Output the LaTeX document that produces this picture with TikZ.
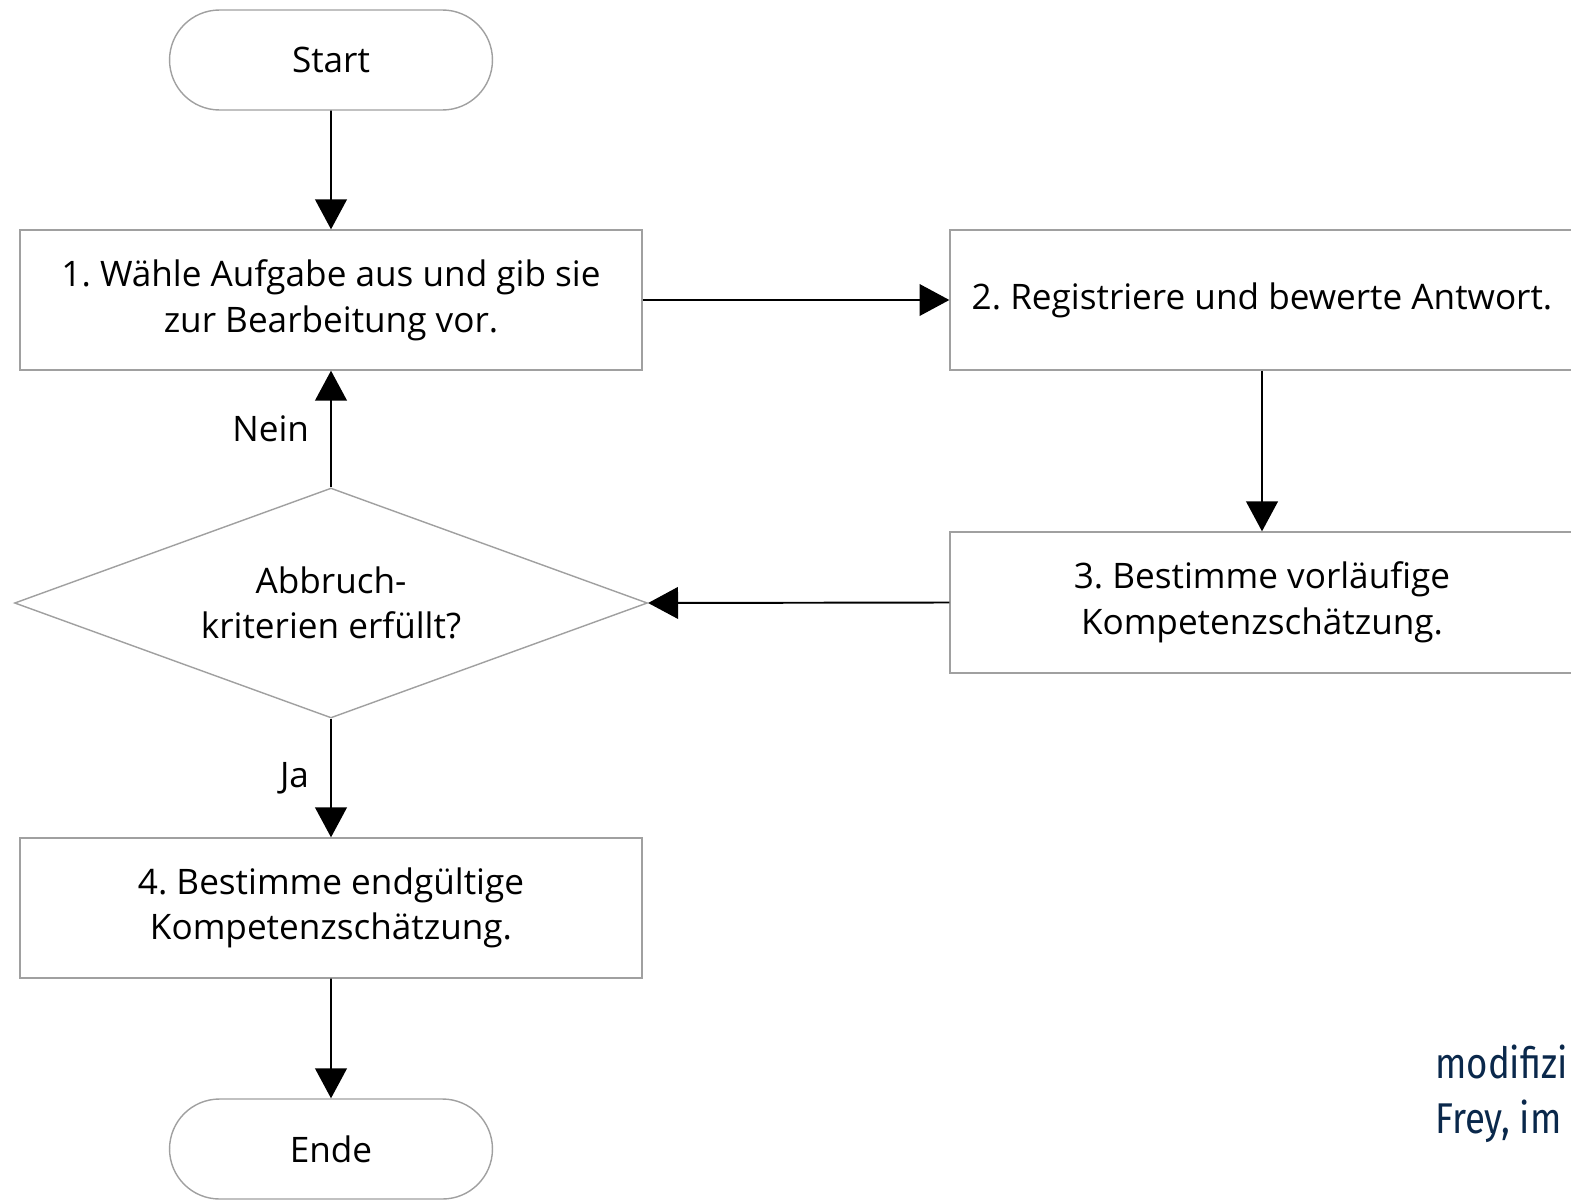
\documentclass[tikz,border=0pt]{standalone}
\usepackage{fontspec}
\setmainfont{Open Sans}
\newfontfamily\footfont[FakeStretch=0.85]{Fira Sans}
\usetikzlibrary{shapes.geometric,shapes.misc,arrows.meta}
\definecolor{boxgray}{RGB}{160,160,160}
\definecolor{navy}{RGB}{10,40,75}
\begin{document}
\frenchspacing
\begin{tikzpicture}[x=0.02cm,y=-0.02cm,
  every node/.style={font=\fontsize{20}{26}\selectfont, text=black},
  term/.style={draw=boxgray, line width=0.8pt, rounded rectangle, minimum width=6.46cm, minimum height=2cm, inner sep=0pt},
  proc/.style={draw=boxgray, line width=0.8pt, rectangle, minimum width=12.44cm, minimum height=2.8cm, align=center, inner sep=0pt},
  dec/.style={draw=boxgray, line width=0.8pt, diamond, aspect=2.75, minimum width=12.66cm, minimum height=4.6cm, align=center, inner sep=0pt},
  arr/.style={draw=black, line width=1.1pt, -{Triangle[length=17pt,width=18pt]}},
  lbl/.style={inner sep=0pt},
  foot/.style={anchor=base west, inner sep=0pt, font=\footfont\fontsize{24.5}{30}\selectfont, text=navy}
]
\useasboundingbox (0,0) rectangle (1571,1203);
\clip (0,0) rectangle (1571,1203);
\fill[white] (0,0) rectangle (1571,1203);

\node[term] (start) at (331,60) {Start};
\node[proc] (b1) at (331,300) {1. Wähle Aufgabe aus und gib sie\\zur Bearbeitung vor.};
\node[proc, minimum width=12.48cm] (b2) at (1262,300) {2. Registriere und bewerte Antwort.};
\node[proc, minimum width=12.48cm, minimum height=2.82cm] (b3) at (1262,602.5) {3. Bestimme vorläufige\\Kompetenzschätzung.};
\node[dec] (d) at (331,603) {Abbruch-\\kriterien erfüllt?};
\node[proc] (b4) at (331,908) {4. Bestimme endgültige\\Kompetenzschätzung.};
\node[term] (ende) at (331,1149) {Ende};

\draw[arr] (start) -- (b1);
\draw[arr] (b1) -- (b2);
\draw[arr] (b2) -- (b3);
\draw[arr] (b3.west) -- (d.east);
\draw[arr] (d) -- node[left=12pt, lbl] (nein) {Nein} (b1);
\draw[arr] (d) -- node[left=12pt, lbl] (ja) {Ja} (b4);
\draw[arr] (b4) -- (ende);

\node[foot] (f1) at (1435,1078) {modifizi};
\node[foot] (f2) at (1435,1133) {Frey, im};
\end{tikzpicture}
\end{document}
